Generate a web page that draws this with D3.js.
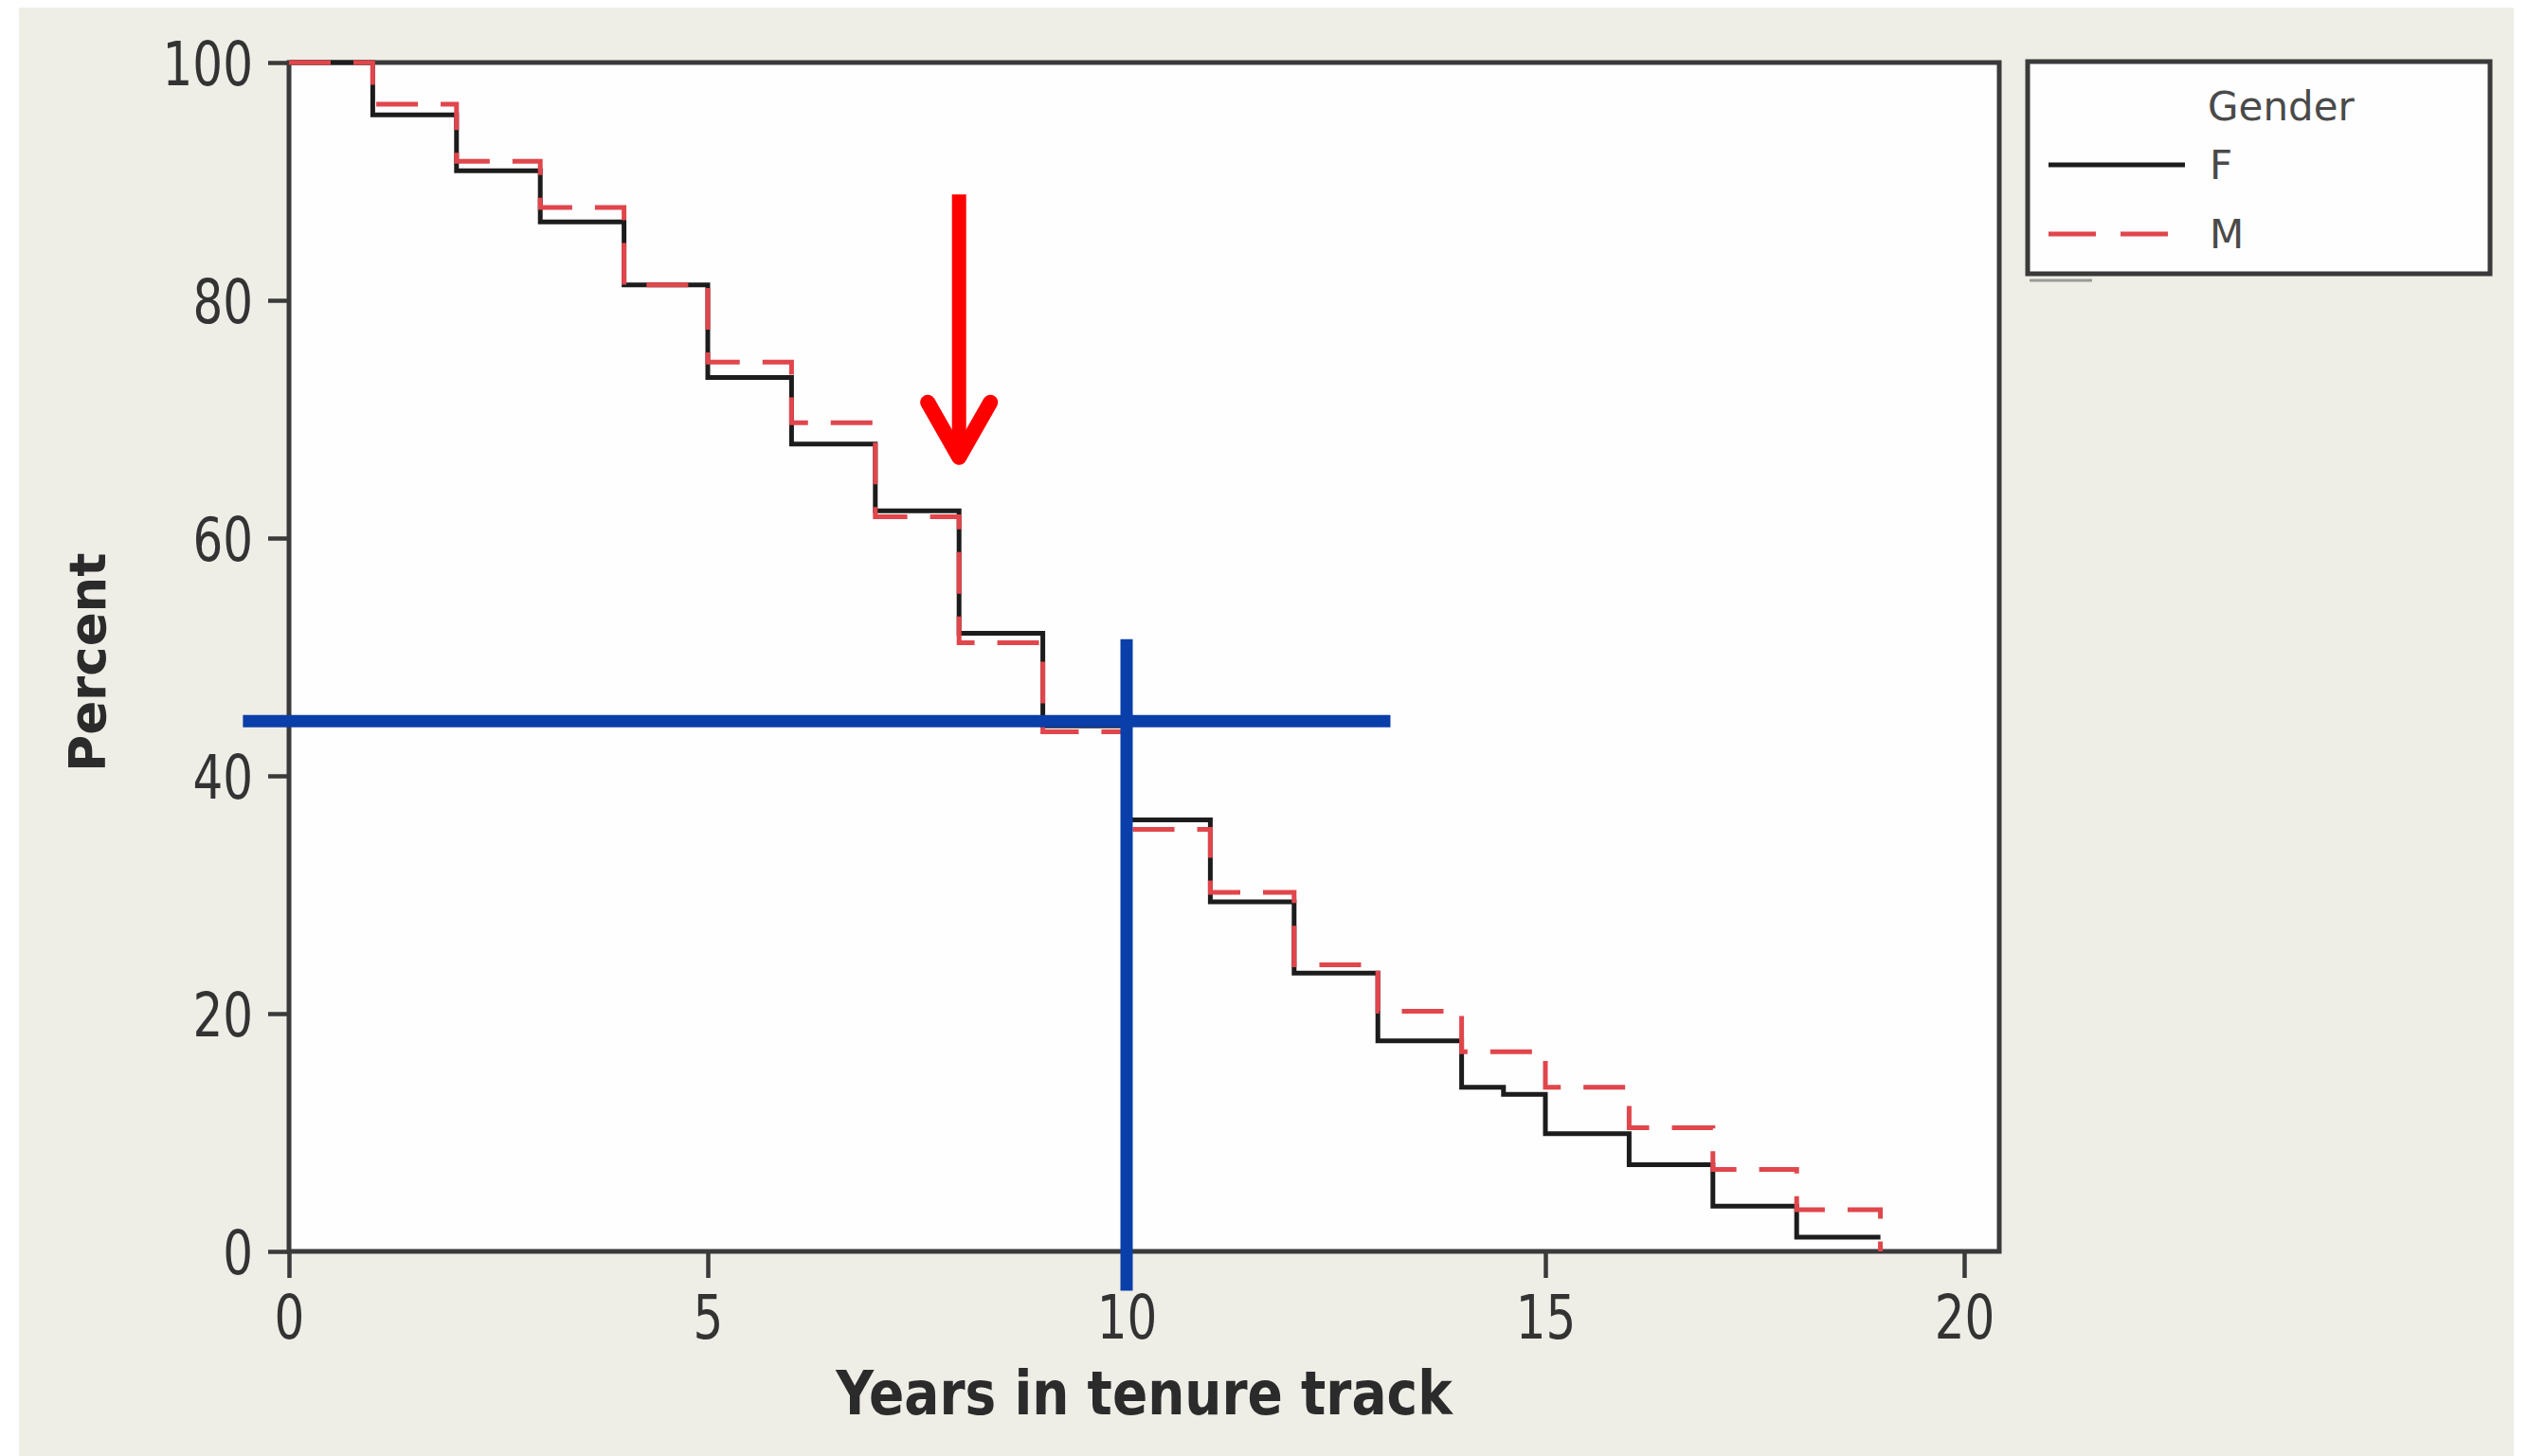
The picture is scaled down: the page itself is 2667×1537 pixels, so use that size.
<!DOCTYPE html>
<html>
<head>
<meta charset="utf-8">
<script src="https://cdn.jsdelivr.net/npm/d3@7"></script>
<style>
	body { margin: 0; background: #fff; }
	svg { display: block; }
</style>
</head>
<body>
<div id="chart"></div>
<script>
// axis ticks
const xTicks = [0, 5, 10, 15, 20];
const yTicks = [0, 20, 40, 60, 80, 100];

// survival curves (year where a step starts, percent still in track)
const femaleYears = [0, 1, 2, 3, 4, 5, 6, 7, 8, 9, 10, 11, 12, 13, 14, 14.5, 15, 16, 17, 18, 19];
const femalePercent = [100, 95.6, 90.9, 86.6, 81.3, 73.5, 67.9, 62.3, 52.0, 44.2, 36.3, 29.4, 23.4, 17.7, 13.8, 13.2, 9.9, 7.3, 3.8, 1.2, 1.2];
const maleYears = [0, 1, 2, 3, 4, 5, 6, 7, 8, 9, 10, 11, 12, 13, 14, 15, 16, 17, 18, 19];
const malePercent = [100, 96.5, 91.7, 87.8, 81.3, 74.8, 69.7, 61.8, 51.2, 43.7, 35.5, 30.2, 24.1, 20.2, 16.8, 13.8, 10.4, 6.9, 3.5, 0];

const legendTitle = 'Gender';
const seriesNames = ['F', 'M'];

// hand drawn marks on top of the chart, in data units
const crossLevel = 44.6;
const crossYear = 10;
const crossSpanYears = [-0.55, 13.15];
const crossSpanPercent = [-3.3, 51.5];
const arrowYear = 8;
const arrowPercent = [88.9, 66.4];

const width = 2667;
const height = 1537;
const frame = { left: 305, top: 66, right: 2110, bottom: 1321 };

const x = d3.scaleLinear().domain([0, 20]).range([305, 2073]);
const y = d3.scaleLinear().domain([0, 100]).range([frame.bottom, frame.top]);

const svg = d3.select('#chart')
	.append('svg')
	.attr('width', width)
	.attr('height', height);

svg.append('rect')
	.attr('x', 20)
	.attr('y', 8)
	.attr('width', 2633)
	.attr('height', height - 8)
	.attr('fill', '#eeede6');

svg.append('rect')
	.attr('x', frame.left)
	.attr('y', frame.top)
	.attr('width', frame.right - frame.left)
	.attr('height', frame.bottom - frame.top)
	.attr('fill', '#fefefe');

// axes
let xAxis = svg.append('g')
	.attr('transform', `translate(0, ${frame.bottom})`)
	.call(d3.axisBottom(x).tickValues(xTicks).tickSize(28).tickFormat(d3.format('d')));

let yAxis = svg.append('g')
	.attr('transform', `translate(${frame.left}, 0)`)
	.call(d3.axisLeft(y).tickValues(yTicks).tickSize(22).tickFormat(d3.format('d')));

[xAxis, yAxis].forEach((axis) => {
	axis.select('.domain').remove();
	axis.selectAll('.tick line')
		.attr('stroke', '#3a3a3a')
		.attr('stroke-width', 4.5);
	axis.selectAll('.tick text')
		.attr('x', 0)
		.attr('y', 0)
		.attr('dy', null)
		.attr('fill', '#333')
		.attr('font-family', 'DejaVu Sans, sans-serif')
		.attr('font-size', 50);
});

xAxis.selectAll('.tick text')
	.attr('text-anchor', 'middle')
	.attr('transform', 'translate(0, 92) scale(1, 1.27)');

yAxis.selectAll('.tick text')
	.attr('text-anchor', 'end')
	.attr('transform', 'translate(-38, 23) scale(1, 1.27)');

svg.append('rect')
	.attr('x', frame.left)
	.attr('y', frame.top)
	.attr('width', frame.right - frame.left)
	.attr('height', frame.bottom - frame.top)
	.attr('fill', 'none')
	.attr('stroke', '#3a3a3a')
	.attr('stroke-width', 5);

// axis titles
svg.append('text')
	.attr('transform', `translate(${(frame.left + frame.right) / 2}, 1493) scale(1, 1.18)`)
	.attr('text-anchor', 'middle')
	.attr('font-family', 'DejaVu Sans, sans-serif')
	.attr('font-weight', 'bold')
	.attr('font-size', 55)
	.attr('fill', '#2b2b2b')
	.text('Years in tenure track');

svg.append('text')
	.attr('transform', `translate(111, 699) rotate(-90)`)
	.attr('text-anchor', 'middle')
	.attr('font-family', 'DejaVu Sans, sans-serif')
	.attr('font-weight', 'bold')
	.attr('font-size', 53)
	.attr('fill', '#2b2b2b')
	.text('Percent');

// curves
const line = d3.line()
	.x((d) => x(d[0]))
	.y((d) => y(d[1]))
	.curve(d3.curveStepAfter);

const series = [
	{ name: seriesNames[0], data: d3.zip(femaleYears, femalePercent), color: '#1c1c1c', dash: null },
	{ name: seriesNames[1], data: d3.zip(maleYears, malePercent), color: '#e0464c', dash: '44,24' }
];

svg.append('g')
	.selectAll('path')
	.data(series)
	.enter()
	.append('path')
	.attr('d', (d) => line(d.data))
	.attr('fill', 'none')
	.attr('stroke', (d) => d.color)
	.attr('stroke-width', 5)
	.attr('stroke-dasharray', (d) => d.dash);

// legend
let legend = svg.append('g');

legend.append('rect')
	.attr('x', 2140)
	.attr('y', 65)
	.attr('width', 488)
	.attr('height', 224)
	.attr('fill', '#fefefe')
	.attr('stroke', '#3a3a3a')
	.attr('stroke-width', 5);

legend.append('line')
	.attr('x1', 2142)
	.attr('x2', 2208)
	.attr('y1', 296)
	.attr('y2', 296)
	.attr('stroke', '#9a9a96')
	.attr('stroke-width', 3);

legend.append('text')
	.attr('x', 2330)
	.attr('y', 127)
	.attr('font-family', 'DejaVu Sans, sans-serif')
	.attr('font-size', 42)
	.attr('fill', '#4a4a4a')
	.text(legendTitle);

let legendItem = legend.selectAll('.item')
	.data(series)
	.enter()
	.append('g')
	.attr('class', 'item')
	.attr('transform', (d, i) => `translate(0, ${174 + i * 73})`);

legendItem.append('line')
	.attr('x1', 2162)
	.attr('x2', 2306)
	.attr('stroke', (d) => d.color)
	.attr('stroke-width', 5)
	.attr('stroke-dasharray', (d) => d.dash ? '50,26' : null);

legendItem.append('text')
	.attr('x', 2332)
	.attr('y', 15)
	.attr('font-family', 'DejaVu Sans, sans-serif')
	.attr('font-size', 42)
	.attr('fill', '#4a4a4a')
	.text((d) => d.name);

// blue cross and red arrow
let marks = svg.append('g');

marks.append('line')
	.attr('x1', x(crossSpanYears[0]))
	.attr('x2', x(crossSpanYears[1]))
	.attr('y1', y(crossLevel))
	.attr('y2', y(crossLevel))
	.attr('stroke', '#0a3ea8')
	.attr('stroke-width', 13);

marks.append('line')
	.attr('x1', x(crossYear))
	.attr('x2', x(crossYear))
	.attr('y1', y(crossSpanPercent[1]))
	.attr('y2', y(crossSpanPercent[0]))
	.attr('stroke', '#0a3ea8')
	.attr('stroke-width', 13);

let ax = x(arrowYear);
let tip = y(arrowPercent[1]);

marks.append('line')
	.attr('x1', ax)
	.attr('x2', ax)
	.attr('y1', y(arrowPercent[0]))
	.attr('y2', tip - 8)
	.attr('stroke', '#ff0000')
	.attr('stroke-width', 15);

marks.append('path')
	.attr('d', `M${ax - 33},${tip - 63} L${ax},${tip - 5} L${ax + 33},${tip - 63}`)
	.attr('fill', 'none')
	.attr('stroke', '#ff0000')
	.attr('stroke-width', 16)
	.attr('stroke-linecap', 'round')
	.attr('stroke-linejoin', 'round');
</script>
</body>
</html>
